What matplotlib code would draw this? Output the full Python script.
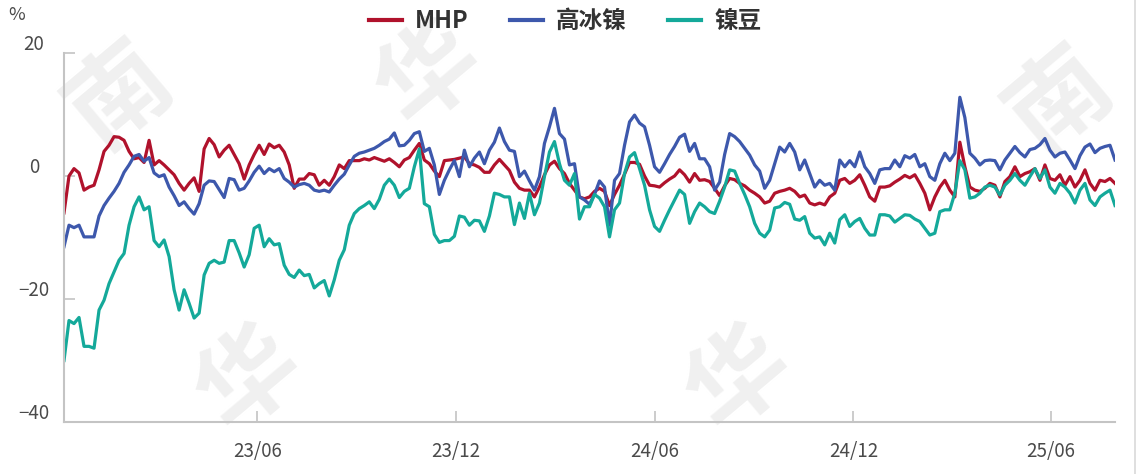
import matplotlib
matplotlib.use("Agg")
import matplotlib.pyplot as plt
import matplotlib.transforms as mtransforms
from matplotlib.lines import Line2D
import pandas as pd

plt.rcParams["font.family"] = ["Noto Sans CJK SC", "DejaVu Sans"]

# readings, one value every ~4.6 days
START, END = "2022-12-05", "2025-07-30"

mhp = [
    -6.0, 0.0, 1.2, 0.5, -2.3, -1.8, -1.5, 1.0, 4.0, 5.0, 6.4, 6.3, 5.8, 4.0, 2.8, 3.0, 2.2, 5.8,
    1.8, 2.5, 1.8, 1.0, 0.2, -1.2, -2.3, -1.2, -0.3, -2.5, 4.4, 6.1, 5.1, 3.1, 4.2, 5.0, 3.5,
    2.0, -0.5, 1.8, 3.5, 5.0, 3.5, 5.2, 4.6, 5.0, 3.9, 1.8, -2.0, -0.5, -0.5, 0.4, 0.2, -1.5,
    -0.7, -1.5, -0.1, 1.8, 1.2, 2.5, 2.5, 2.5, 2.8, 2.6, 3.0, 2.7, 2.4, 2.8, 2.2, 1.5, 2.6,
    3.0, 4.2, 5.3, 2.6, 2.0, 0.8, -0.1, 2.5, 2.6, 2.7, 2.9, 3.1, 2.0, 1.8, 1.4, 0.6, 0.6, 1.8,
    2.7, 1.8, 0.9, -1.0, -2.0, -2.3, -2.3, -3.4, -1.8, 0.2, 1.8, 2.4, 1.2, 0.4, -1.2,
    -2.3, -3.4, -3.7, -3.4, -2.5, -2.0, -2.5, -4.8, -3.0, -1.5, 0.3, 2.2, 2.2, 1.9, 0.0, -1.5,
    -1.6, -1.8, -1.1, -0.5, 0.0, 1.0, 0.2, -1.0, 0.4, -0.7, -0.6, -0.9, -2.0, -3.2, -1.6, -0.4,
    -0.6, -1.2, -1.6,
    -2.3, -2.8, -3.4, -4.4, -4.1, -2.8, -2.5, -2.3, -2.0, -2.5, -3.4, -3.1, -4.4, -4.7, -4.4,
    -4.7, -3.4, -2.8, -0.7, -0.4, -1.2, -0.7, 0.2, -1.5, -3.4, -4.1, -1.8, -1.8, -1.6, -1.0,
    -0.5, 0.1, -0.3, 0.2,
    -1.2, -2.8, -5.5, -3.4, -1.8, -0.7, -2.3, -3.4, 5.5, 1.5, -1.8, -2.3, -2.5, -2.0, -1.2,
    -1.5, -3.4, -0.9, -0.1, 1.5, -0.1, 0.4, 0.7, 1.2, -0.7, 1.8, -0.4, -0.7, 0.2, -1.5, -0.1,
    -1.8, -0.7, 1.0, -1.2, -2.3, -0.7, -0.9, -0.4, -1.2,
]

matte = [
    -11.5, -8.0, -8.4, -8.0, -9.9, -9.9, -9.9, -6.5, -4.8, -3.6, -2.5, -1.2, 0.6, 1.8, 3.2,
    3.5, 2.4, 3.0, 0.5, -0.1, 0.2, -1.8, -3.2, -4.8, -4.2, -5.3, -6.2, -4.5, -1.5, -0.8, -0.9,
    -2.2, -3.5, -0.4, -0.6,
    -2.3, -2.0, -0.8, 0.6, 1.6, 0.4, 1.2, 0.7, 1.2, -0.4, -1.0, -1.8, -1.4, -1.2, -1.5, -2.3,
    -2.5, -2.3, -2.6, -1.5, -0.5, 0.3, 1.8, 3.2, 3.7, 3.9, 4.2, 4.5, 5.0, 5.6, 6.0, 7.0, 4.9, 5.0,
    5.8, 6.9, 7.2, 4.0, 4.5, 1.8, -3.0, -0.7, 1.0, 2.5, -0.1, 4.2, 1.5, 2.9, 3.9, 2.0, 4.2,
    5.5, 7.8, 5.6, 4.2, 4.0, -0.1, 0.8, -0.8, -2.3, -0.1, 5.3, 8.0, 11.0, 6.9, 6.0, 1.8,
    2.0, -3.4, -3.9, -4.6, -3.0, -0.8, -1.8, -8.0, -0.7, 0.4, 5.0, 8.8, 9.9, 8.6, 8.0, 5.0,
    1.5, 0.6, 2.0, 3.5, 4.8, 6.3, 6.8, 4.0, 5.3, 2.8, 2.8, 1.5, -2.3, -1.0, 3.5, 6.9, 6.4,
    5.6, 4.5,
    3.4, 1.8, 0.8, -2.0, -0.7, 2.0, 4.7, 3.9, 5.3, 3.9, 1.0, 2.6, 0.4, -1.8, -0.7, -1.5, -1.2,
    -2.3, 2.6, 1.5, 2.5, 1.5, 3.9, 1.5, 0.4, -1.2, 1.0, 1.2, 1.2, 2.6, 1.5, 3.3, 2.9, 3.5,
    1.5, 2.0, -0.1, -0.7, 2.0, 3.7, 2.5, 3.7, 12.8, 9.5, 3.7, 2.9, 1.8, 2.5, 2.6, 2.5, 1.0,
    2.6, 3.7, 4.8, 3.8, 3.1, 4.3, 4.5, 5.1, 6.1, 4.2, 3.1, 3.7, 3.9, 2.6, 1.2, 3.3, 4.7, 5.2,
    3.8, 4.5, 4.8, 5.0, 2.6,
]

beans = [
    -30.0, -23.5, -24.0, -23.0, -27.7, -27.7, -28.0, -21.8, -20.2, -17.5, -15.6, -13.7, -12.6,
    -8.0, -5.0, -3.4, -5.5, -5.0, -10.5, -11.5, -10.4, -13.1, -18.5, -21.8, -18.5, -20.7,
    -23.1, -22.3, -16.1, -14.2, -13.7, -14.2, -14.0, -10.5, -10.5,
    -12.5, -14.8, -12.8, -8.5, -8.0, -11.5, -10.2, -11.2, -11.0, -14.5, -16.0, -16.5, -15.3,
    -16.2, -16.0, -18.2, -17.5, -17.0, -19.5, -16.9, -13.7, -12.0, -8.0, -6.1, -5.3, -4.8,
    -4.2, -5.3, -3.8, -1.5, -0.5, -1.5, -3.5, -2.5,
    -2.0, 1.5, 4.4, -4.5, -5.0, -9.5, -10.8, -10.5, -10.5, -9.8, -6.5, -6.7, -8.0, -7.2, -7.3,
    -9.0, -6.5, -2.8, -3.0, -3.4, -3.4, -7.9, -4.4, -6.9, -2.8, -6.3, -4.4, -0.1, 3.9, 5.6,
    2.0, -0.7, -1.5,
    0.4, -7.0, -5.0, -5.0, -3.0, -3.6, -5.0, -9.9, -5.5, -4.4, 0.4, 3.1, 3.8, 1.2, -1.5, -5.5,
    -8.2, -9.0, -7.2, -5.5, -3.9, -2.3, -3.0, -7.7, -5.8, -4.4, -5.0, -5.8, -6.1, -4.1, -1.8,
    1.0, 0.8, -1.2, -3.0,
    -5.0, -7.7, -9.3, -9.9, -8.8, -5.2, -5.0, -4.3, -4.6, -7.0, -7.2, -6.6, -9.3, -10.1, -9.9,
    -11.2, -9.3, -10.9, -7.1, -6.3, -8.2, -7.4, -6.9, -8.5, -9.6, -9.6, -6.3, -6.3, -6.5,
    -7.5, -6.9, -6.3, -6.4, -7.0,
    -7.4, -8.5, -9.6, -9.3, -5.8, -5.5, -5.5, -2.8, 2.5, 1.0, -3.6, -3.4, -2.8, -1.8, -1.5,
    -1.8, -3.1, -1.5, -0.7, 0.4, -0.7, -1.5, -0.1, 1.2, -0.4, 1.0, -1.8, -2.8, -1.2, -1.8,
    -2.8, -4.4, -2.3, -1.2, -3.9, -4.8, -3.4, -2.8, -2.3, -4.8,
]

series = [("MHP", mhp, "#b0122c"), ("高冰镍", matte, "#3d58ac"), ("镍豆", beans, "#14a99a")]

tick_dates = ["2023-06-01", "2023-12-01", "2024-06-01", "2024-12-01", "2025-06-01"]
tick_labels = ["23/06", "23/12", "24/06", "24/12", "25/06"]
y_ticks = [-40, -20, 0, 20]

TEXT = "#4a4a4a"
AXIS = "#c4c4c4"
W, H = 1137, 474

dates = pd.date_range(START, END, periods=len(mhp))

fig = plt.figure(figsize=(W / 100, H / 100), dpi=100)
fig.patch.set_facecolor("white")

# faint diagonal watermark, kept behind the axes
for (px, py, ch) in [(120, 95, "南"), (430, 75, "华"), (1060, 100, "南"), (250, 380, "华"), (740, 380, "华")]:
    fig.text(px / W, 1 - py / H, ch, fontsize=72, color="#f0f0f0", rotation=40,
             ha="center", va="center", fontweight="bold", zorder=0)

ax = fig.add_axes([64 / W, 1 - 422 / H, (1115 - 64) / W, (422 - 53) / H])
ax.set_facecolor("none")
ax.set_zorder(2)

for name, vals, color in series:
    ax.plot(dates, vals, color=color, lw=2.3, label=name, solid_joinstyle="round")

ax.set_xlim(pd.Timestamp(START), pd.Timestamp(END))
ax.set_ylim(-40, 20)

ax.set_xticks(pd.to_datetime(tick_dates))
ax.set_xticklabels(tick_labels)
ax.set_yticks(y_ticks)
ax.set_yticklabels([str(v).replace("-", "\u2212") for v in y_ticks])

for side in ("top", "right"):
    ax.spines[side].set_visible(False)
for side in ("left", "bottom"):
    ax.spines[side].set_color(AXIS)
    ax.spines[side].set_linewidth(1.5)

ax.tick_params(axis="both", direction="in", length=8, width=1.2, color=AXIS,
               labelcolor=TEXT, labelsize=13.5)
ax.tick_params(axis="x", pad=14)
ax.tick_params(axis="y", pad=0)

# y labels sit centred at x~34px, a little above their ticks
shift = mtransforms.ScaledTranslation(-30 / 100, 11 / 100, fig.dpi_scale_trans)
for lab in ax.get_yticklabels():
    lab.set_horizontalalignment("center")
    lab.set_transform(lab.get_transform() + shift)

fig.text(17 / W, 1 - 15 / H, "%", fontsize=13, color=TEXT, ha="center", va="center")

handles = [Line2D([], [], color=c, lw=3) for _, _, c in series]
fig.legend(handles, [n for n, _, _ in series], loc="center", bbox_to_anchor=(565 / W, 1 - 21 / H),
           ncol=3, frameon=False, handlelength=1.4, handletextpad=0.55, columnspacing=1.75,
           prop={"size": 17, "weight": "bold"}, labelcolor="#333333")

fig.add_artist(Line2D([1134.5 / W, 1134.5 / W], [0, 1], color="#d9d9d9", lw=1.2))

fig.savefig("out.png", dpi=100, facecolor="white")
plt.close(fig)
